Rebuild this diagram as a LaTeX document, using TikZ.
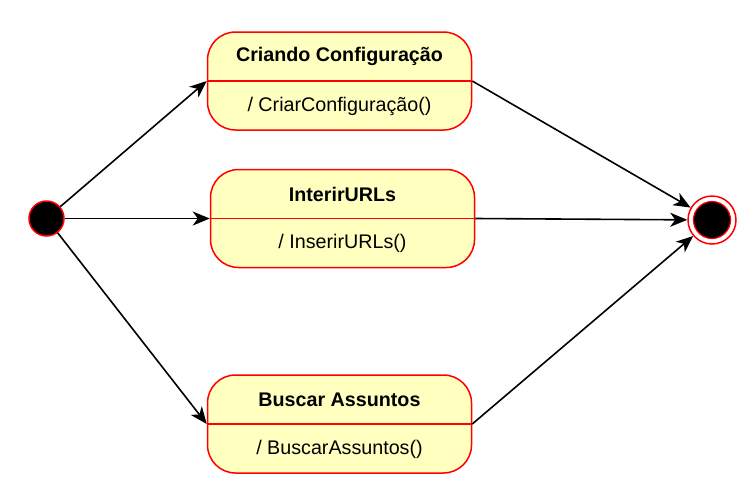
\documentclass[tikz,border=0pt]{standalone}
\usepackage{fontspec}
\setmainfont{Liberation Sans}
\usetikzlibrary{arrows.meta}
\definecolor{statefill}{HTML}{FFFFC0}
\definecolor{statered}{HTML}{FF0000}
\tikzset{
  statebox/.style={draw=statered, fill=statefill, line width=1.5pt,
    rounded corners=28pt, minimum width=264pt, minimum height=98pt, inner sep=0},
  trans/.style={line width=1.6pt, -{Stealth[length=17pt,width=14pt,inset=5pt]}},
}
\begin{document}
\begin{tikzpicture}[x=1pt,y=-1pt]
  \fontsize{19.7}{23}\selectfont
  \useasboundingbox (0,0) rectangle (756,499);
  % initial and final states
  \node [circle, fill=black, draw=statered, line width=1.5pt, minimum size=35pt,
    inner sep=0] (start) at (46.5,218.5) {};
  \node [circle, fill=white, draw=statered, line width=1.5pt, minimum size=48pt,
    inner sep=0] (stop) at (712,220) {};
  \node [circle, fill=black, draw=statered, line width=1.2pt, minimum size=37pt,
    inner sep=0] (stopdot) at (stop) {};
  % states
  \foreach \nm/\x/\y/\title/\act in {
      cfg/339.5/81/Criando Configuração/CriarConfiguração(),
      urls/342.5/218.5/InterirURLs/InserirURLs(),
      busca/339.5/424/Buscar Assuntos/BuscarAssuntos()} {
    \node [statebox] (\nm) at (\x,\y) {};
    \draw [statered, line width=1.5pt] (\nm.west) -- (\nm.east);
    \node [font=\bfseries] (\nm-title) at ([yshift=24.5pt]\nm.center) {\title};
    \node (\nm-act) at ([yshift=-25pt]\nm.center) {/ \act};
    \draw [trans] (start) -- (\nm.west);
    \draw [trans] (\nm.east) -- (stop);
  }
\end{tikzpicture}
\end{document}
